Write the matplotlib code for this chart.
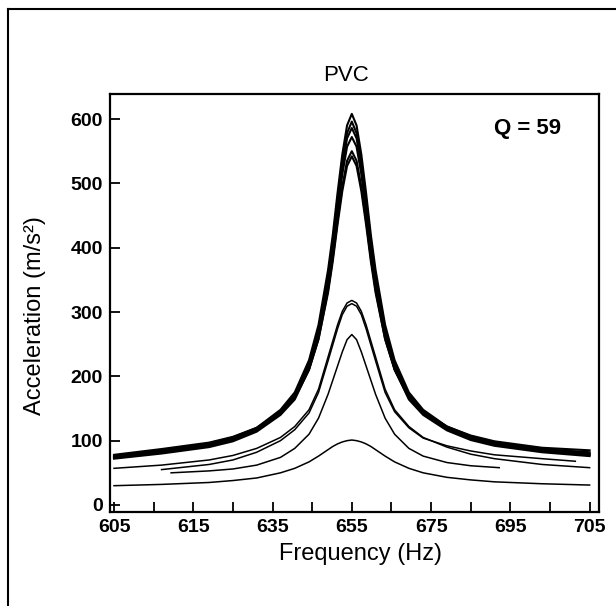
# import packages
import numpy as np
import matplotlib
matplotlib.use("Agg")
from matplotlib import pyplot as plt
from matplotlib.lines import Line2D

plt.rcParams['font.family'] = ['Liberation Sans', 'DejaVu Sans']

# ======================data======================
freq = [605, 615, 625, 630, 635, 640, 643, 646, 648, 650, 651, 652, 653, 654, 655,
        656, 657, 658, 659, 660, 662, 664, 667, 670, 675, 680, 685, 695, 705]

# the six big curves (thick band)
acc_1 = [75, 84, 96, 105, 120, 148, 175, 225, 280, 365, 420, 485, 545, 590, 608,
         590, 545, 485, 420, 365, 280, 225, 175, 148, 122, 107, 98, 87, 80]
acc_2 = [74, 83, 94, 103, 118, 145, 171, 220, 274, 357, 411, 475, 534, 578, 596,
         578, 534, 475, 411, 357, 274, 220, 171, 145, 120, 105, 96, 85, 79]
acc_3 = [73, 82, 92, 101, 116, 143, 168, 216, 270, 352, 405, 468, 526, 570, 586,
         570, 526, 468, 405, 352, 270, 216, 168, 143, 118, 103, 94, 84, 78]
acc_4 = [72, 80, 90, 99, 114, 140, 164, 211, 263, 343, 395, 457, 514, 557, 572,
         557, 514, 457, 395, 343, 263, 211, 164, 140, 116, 101, 92, 82, 76]
acc_5 = [76, 85, 95, 104, 118, 143, 166, 210, 258, 334, 384, 442, 495, 535, 550,
         535, 495, 442, 384, 334, 258, 210, 166, 143, 120, 106, 97, 87, 82]
acc_6 = [78, 87, 97, 106, 120, 145, 168, 211, 258, 330, 379, 436, 488, 527, 542,
         527, 488, 436, 379, 330, 258, 211, 168, 145, 122, 108, 99, 89, 85]

# middle curves
acc_b1 = [57, 62, 70, 77, 88, 105, 122, 148, 180, 230, 255, 280, 301, 314, 318,
          314, 301, 280, 255, 230, 180, 148, 122, 105, 90, 79, 72, 63, 58]

freq_b2 = [615, 625, 630, 635, 640, 643, 646, 648, 650, 651, 652, 653, 654, 655,
           656, 657, 658, 659, 660, 662, 664, 667, 670, 675, 680, 685, 695, 702]
acc_b2 = [55, 63, 70, 82, 100, 117, 143, 175, 224, 249, 274, 296, 309, 313,
          309, 296, 274, 249, 224, 175, 145, 120, 104, 92, 84, 78, 72, 68]

freq_c = [617, 625, 630, 635, 640, 643, 646, 648, 650, 651, 652, 653, 654, 655,
          656, 657, 658, 659, 660, 662, 664, 667, 670, 675, 680, 686]
acc_c = [50, 53, 56, 62, 74, 88, 110, 135, 172, 194, 216, 238, 257, 265,
         257, 238, 216, 194, 172, 135, 110, 88, 76, 66, 61, 58]

# lowest curve
acc_d = [30, 32, 35, 38, 42, 50, 57, 67, 76, 86, 91, 95, 98, 100, 101,
         100, 98, 95, 91, 86, 76, 67, 57, 50, 43, 39, 36, 33, 31]

xtick_pos = [605 + i * 100 / 12 for i in range(13)]
xtick_lab = ['605', '', '615', '', '635', '', '655', '', '675', '', '695', '', '705']
ytick_pos = [0, 100, 200, 300, 400, 500, 600]

# ======================plot======================
fig = plt.figure(figsize=(6.16, 6.06), dpi=100)
ax = fig.add_axes([0.1786, 0.155, 0.794, 0.69])

for acc in [acc_1, acc_2, acc_3, acc_4, acc_5, acc_6]:
    ax.plot(freq, acc, color='black', lw=1.5)
ax.plot(freq, acc_b1, color='black', lw=1.1)
ax.plot(freq_b2, acc_b2, color='black', lw=1.1)
ax.plot(freq_c, acc_c, color='black', lw=1.1)
ax.plot(freq, acc_d, color='black', lw=1.1)

ax.set_xlim(604.16, 707.0)
ax.set_ylim(-11, 639)
ax.set_xticks(xtick_pos)
ax.set_xticklabels(xtick_lab, fontsize=14, fontweight='bold')
ax.set_yticks(ytick_pos)
ax.set_yticklabels([str(v) for v in ytick_pos], fontsize=14, fontweight='bold')
ax.tick_params(direction='in', length=7, width=1.3, pad=5)
for s in ax.spines.values():
    s.set_linewidth(1.6)

ax.set_xlabel('Frequency (Hz)', fontsize=17)
ax.xaxis.set_label_coords(0.513, -0.075)
ax.set_ylabel('Acceleration (m/s²)', fontsize=17)
ax.yaxis.set_label_coords(-0.13, 0.47)

ax.text(692, 585, 'Q = 59', fontsize=16, fontweight='bold', ha='center', va='center')
fig.text(0.5617, 0.8746, 'PVC', fontsize=16, ha='center', va='center')

# frame round the figure (left and top edges of the scan)
fig.add_artist(Line2D([0.013, 0.013], [0.0, 0.985], color='black', lw=1.5,
                      transform=fig.transFigure))
fig.add_artist(Line2D([0.013, 1.0], [0.985, 0.985], color='black', lw=1.5,
                      transform=fig.transFigure))

fig.savefig('out.png', dpi=100)
